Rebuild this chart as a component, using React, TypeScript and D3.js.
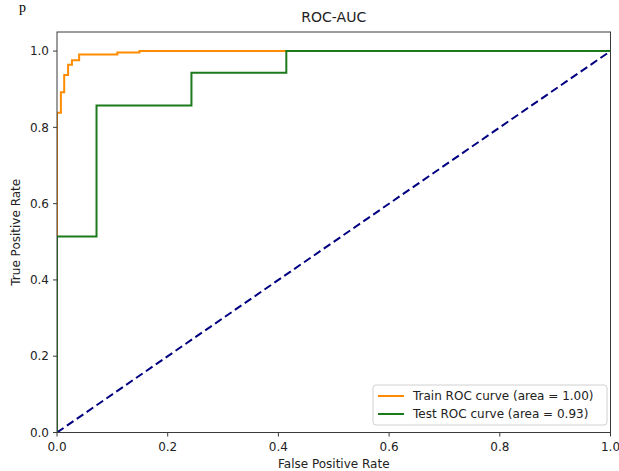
import React from "react";
import * as d3 from "d3";

const trainFpr = [0, 0, 0.007, 0.007, 0.013, 0.013, 0.02, 0.02, 0.027, 0.027, 0.04, 0.04, 0.109, 0.109, 0.149, 0.149, 1.0];
const trainTpr = [0, 0.838, 0.838, 0.892, 0.892, 0.937, 0.937, 0.964, 0.964, 0.976, 0.976, 0.991, 0.991, 0.996, 0.996, 1.0, 1.0];
const testFpr = [0, 0, 0.0714, 0.0714, 0.2429, 0.2429, 0.4143, 0.4143, 1.0];
const testTpr = [0, 0.514, 0.514, 0.857, 0.857, 0.943, 0.943, 1.0, 1.0];
const diagX = [0, 1];
const diagY = [0, 1];
const xTicks = [0, 0.2, 0.4, 0.6, 0.8, 1.0];
const yTicks = [0, 0.2, 0.4, 0.6, 0.8, 1.0];
const legendLabels = ["Train ROC curve (area = 1.00)", "Test ROC curve (area = 0.93)"];
const legendColors = ["#ff8c00", "#1b7a1b"];

const W = 619;
const H = 471;
const left = 57, right = 610.5, top = 32, bottom = 432.5;
const font = "'DejaVu Sans', sans-serif";
const fs = 12;

export default function App() {
  const x = d3.scaleLinear().domain([0, 1]).range([left, right]);
  const y = d3.scaleLinear().domain([0, 1.05]).range([bottom, top]);
  const line = d3.line<[number, number]>().x((d) => x(d[0])).y((d) => y(d[1]));
  const zip = (a: number[], b: number[]) => a.map((v, i) => [v, b[i]] as [number, number]);
  const axisColor = "#3a3a3a";
  return (
    <svg width={W} height={H} style={{ position: "absolute", left: 0, top: 0, background: "#fff" }}>
      <text x={19} y={12} fontFamily="serif" fontSize={14} fill="#000">p</text>
      <text x={(left + right) / 2} y={22} textAnchor="middle" fontFamily={font} fontSize={14} fill="#222">ROC-AUC</text>
      <defs>
        <clipPath id="plotclip">
          <rect x={left} y={top} width={right - left} height={bottom - top} />
        </clipPath>
      </defs>
      <g clipPath="url(#plotclip)">
        <path d={line(zip(diagX, diagY)) || ""} fill="none" stroke="#000080" strokeWidth={2} strokeDasharray="8,4" />
        <path d={line(zip(trainFpr, trainTpr)) || ""} fill="none" stroke={legendColors[0]} strokeWidth={2} />
        <path d={line(zip(testFpr, testTpr)) || ""} fill="none" stroke={legendColors[1]} strokeWidth={2} />
      </g>
      <rect x={left} y={top} width={right - left} height={bottom - top} fill="none" stroke={axisColor} strokeWidth={1} />
      {xTicks.map((t) => (
        <g key={"x" + t}>
          <line x1={x(t)} x2={x(t)} y1={bottom} y2={bottom + 4} stroke={axisColor} strokeWidth={1} />
          <text x={x(t)} y={450.5} textAnchor="middle" fontFamily={font} fontSize={fs} fill="#222">{t.toFixed(1)}</text>
        </g>
      ))}
      {yTicks.map((t) => (
        <g key={"y" + t}>
          <line x1={left - 4} x2={left} y1={y(t)} y2={y(t)} stroke={axisColor} strokeWidth={1} />
          <text x={left - 8} y={y(t) + 4.2} textAnchor="end" fontFamily={font} fontSize={fs} fill="#222">{t.toFixed(1)}</text>
        </g>
      ))}
      <text x={(left + right) / 2} y={467.5} textAnchor="middle" fontFamily={font} fontSize={fs} fill="#222">False Positive Rate</text>
      <text transform={`translate(19.5,${(top + bottom) / 2}) rotate(-90)`} textAnchor="middle" fontFamily={font} fontSize={fs} fill="#222">True Positive Rate</text>
      <g>
        <rect x={373} y={385} width={234} height={40} rx={3} fill="#fff" fillOpacity={0.8} stroke="#d0d0d0" strokeWidth={1} />
        {legendLabels.map((lab, i) => (
          <g key={lab}>
            <line x1={378} x2={404} y1={396 + i * 18} y2={396 + i * 18} stroke={legendColors[i]} strokeWidth={2} />
            <text x={413} y={400.3 + i * 18} fontFamily={font} fontSize={fs} fill="#222">{lab}</text>
          </g>
        ))}
      </g>
    </svg>
  );
}
